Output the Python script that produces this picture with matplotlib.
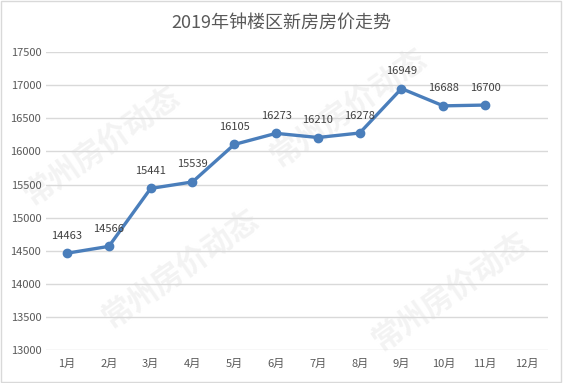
import matplotlib
matplotlib.use('Agg')
import matplotlib.pyplot as plt
from matplotlib.patches import Rectangle

plt.rcParams['font.family'] = ['Noto Sans CJK SC', 'DejaVu Sans']

# 数据
months = ['1月', '2月', '3月', '4月', '5月', '6月', '7月', '8月', '9月', '10月', '11月', '12月']
prices = [14463, 14566, 15441, 15539, 16105, 16273, 16210, 16278, 16949, 16688, 16700]
yticks = list(range(13000, 17501, 500))

fig = plt.figure(figsize=(5.63, 3.83), dpi=100)
ax = fig.add_axes([0.082, 0.086, 0.891, 0.778])
ax.set_zorder(1)

# 水印（放在坐标轴之下）
for (x, y) in [(0.32, 0.30), (0.62, 0.72), (0.80, 0.24), (0.18, 0.62)]:
    fig.text(x, y, '常州房价动态', fontsize=22, color='#f3f3f3', rotation=35,
             ha='center', va='center', fontweight='bold', zorder=-1)

line_color = '#4a7ebb'
xs = list(range(len(prices)))
ax.plot(xs, prices, color=line_color, linewidth=2.4, marker='o', markersize=6, zorder=3)
for x, v in zip(xs, prices):
    ax.annotate(str(v), (x, v), xytext=(0, 9), textcoords='offset points',
                ha='center', va='bottom', fontsize=8, color='#404040', zorder=4)

ax.set_xlim(-0.5, 11.5)
ax.set_ylim(13000, 17500)
ax.set_xticks(range(len(months)))
ax.set_xticklabels(months)
ax.set_yticks(yticks)
ax.yaxis.grid(True, color='#d9d9d9', linewidth=1)
ax.set_axisbelow(True)
for s in ax.spines.values():
    s.set_visible(False)
ax.tick_params(axis='both', length=0, labelsize=8, labelcolor='#595959')
ax.tick_params(axis='x', pad=6)
ax.set_facecolor('none')

fig.text(0.5, 0.94, '2019年钟楼区新房房价走势', ha='center', va='center',
         fontsize=13, color='#595959')

fig.patches.append(Rectangle((0.002, 0.003), 0.995, 0.994, transform=fig.transFigure,
                             fill=False, edgecolor='#d9d9d9', linewidth=1))

fig.savefig('out.png', dpi=100)
